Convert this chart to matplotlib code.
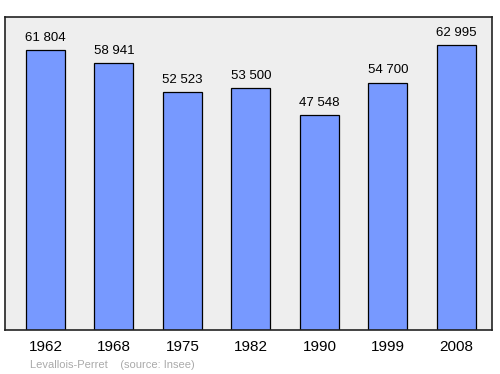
import matplotlib.pyplot as plt
from matplotlib import rcParams
rcParams['font.family'] = 'Liberation Sans'

years = ['1962', '1968', '1975', '1982', '1990', '1999', '2008']
population = [61804, 58941, 52523, 53500, 47548, 54700, 62995]
labels = ['61 804', '58 941', '52 523', '53 500', '47 548', '54 700', '62 995']

fig = plt.figure(figsize=(5, 3.74), dpi=100)
ax = fig.add_axes([0.01, 0.1176, 0.974, 0.837])
ax.set_facecolor('#eeeeee')

xs = range(len(years))
ax.bar(xs, population, width=0.57, color='#7799ff', edgecolor='black', linewidth=0.9, zorder=2)

for x, v, l in zip(xs, population, labels):
    ax.text(x, v + 1400, l, ha='center', va='bottom', fontsize=9.5, color='black')

ax.set_xlim(-0.59, 6.52)
ax.set_ylim(0, 69200)
ax.set_xticks(list(xs))
ax.set_xticklabels(years, fontsize=11)
ax.tick_params(axis='x', length=0, pad=7.5)
ax.set_yticks([])
for s in ax.spines.values():
    s.set_linewidth(1.2)
    s.set_color('#222222')

fig.text(0.06, 0.016, 'Levallois-Perret    (source: Insee)', color='#aaaaaa', fontsize=8)

fig.savefig('out.png', dpi=100)
